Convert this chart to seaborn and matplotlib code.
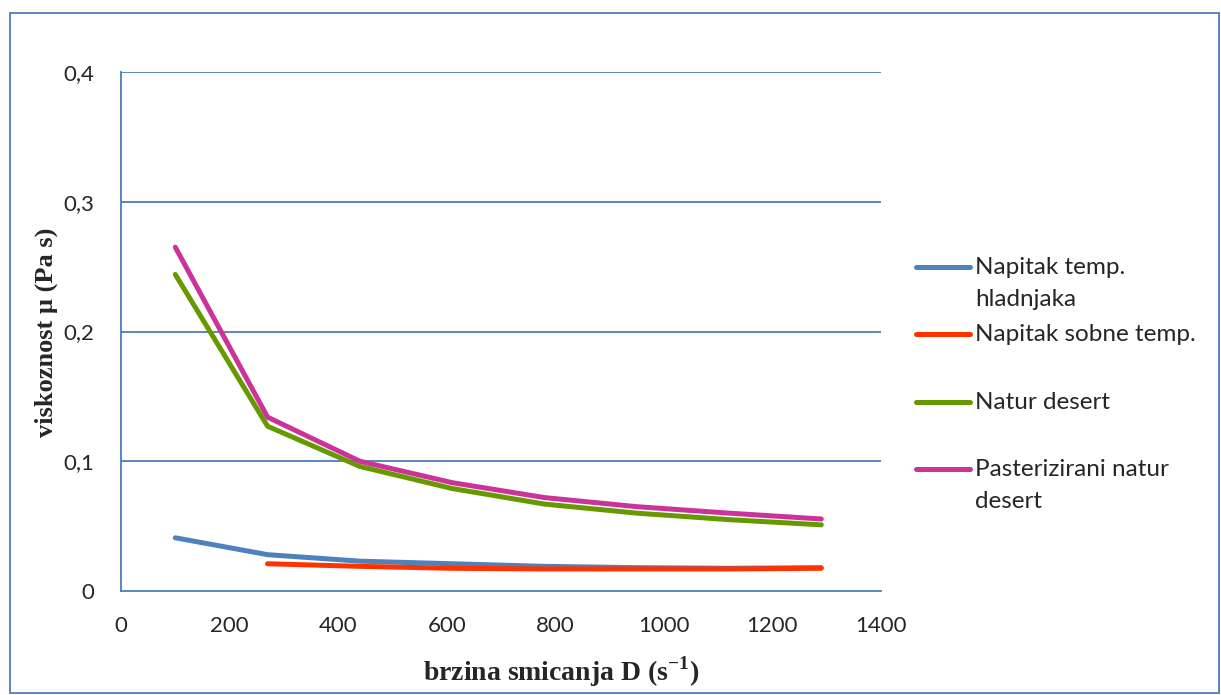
import numpy as np
import pandas as pd
import matplotlib
matplotlib.use("Agg")
import matplotlib.pyplot as plt
import seaborn as sns
from matplotlib.lines import Line2D
from matplotlib.patches import Rectangle

# ---- data ----
shear_rate = [100, 270, 440, 610, 780, 950, 1120, 1290]
napitak_hladnjak = [0.041, 0.028, 0.023, 0.021, 0.019, 0.018, 0.0175, 0.018]
napitak_sobna = [np.nan, 0.021, 0.019, 0.0175, 0.017, 0.017, 0.017, 0.0175]
natur_desert = [0.244, 0.127, 0.096, 0.079, 0.067, 0.060, 0.055, 0.051]
past_natur_desert = [0.265, 0.134, 0.100, 0.0835, 0.072, 0.065, 0.060, 0.0555]

series_names = ["Napitak temp. hladnjaka", "Napitak sobne temp.",
                "Natur desert", "Pasterizirani natur desert"]
legend_labels = ["Napitak temp.\nhladnjaka", "Napitak sobne temp.",
                 "Natur desert", "Pasterizirani natur\ndesert"]
colors = ["#4F81BD", "#FF3300", "#669900", "#CC3399"]
y_ticks = [0, 0.1, 0.2, 0.3, 0.4]
y_tick_labels = ["0", "0,1", "0,2", "0,3", "0,4"]
x_ticks = [0, 200, 400, 600, 800, 1000, 1200, 1400]

frames = []
for name, vals in zip(series_names,
                      [napitak_hladnjak, napitak_sobna, natur_desert, past_natur_desert]):
    frames.append(pd.DataFrame({"x": shear_rate, "y": vals, "serija": name}))
df = pd.concat(frames, ignore_index=True).dropna()

sns.set_style("white")
plt.rcParams["font.family"] = ["Lato", "DejaVu Sans"]
plt.rcParams["mathtext.fontset"] = "custom"
plt.rcParams["mathtext.rm"] = "Liberation Serif:bold"
plt.rcParams["mathtext.bf"] = "Liberation Serif:bold"

fig = plt.figure(figsize=(12.21, 6.95), dpi=100)
ax = fig.add_axes([121 / 1221, 1 - 591 / 695, 760 / 1221, 519 / 695])

grid_c = "#4A7EBB"
sns.lineplot(data=df, x="x", y="y", hue="serija", hue_order=series_names,
             palette=colors, estimator=None, sort=False, linewidth=3.6,
             legend=False, ax=ax, zorder=3)
for ln in ax.get_lines():
    ln.set_solid_capstyle("round")
    ln.set_solid_joinstyle("round")

ax.set_xlim(0, 1400)
ax.set_ylim(0, 0.4)
ax.set_xticks(x_ticks)
ax.set_xticklabels([str(t) for t in x_ticks], fontsize=16)
ax.set_yticks(y_ticks)
ax.set_yticklabels(y_tick_labels, fontsize=16)
ax.tick_params(axis="both", length=0)
ax.tick_params(axis="y", pad=19)
ax.tick_params(axis="x", pad=18)
for t in y_ticks[1:]:
    ax.axhline(t, color=grid_c, lw=1.3, zorder=1)
for s in ["top", "right"]:
    ax.spines[s].set_visible(False)
for s in ["left", "bottom"]:
    ax.spines[s].set_color(grid_c)
    ax.spines[s].set_linewidth(1.3)

ax.set_xlabel(r"brzina smicanja D (s$^{\mathbf{-1}}$)", fontsize=20,
              fontweight="bold", family="Liberation Serif")
ax.xaxis.set_label_coords((561 - 121) / 760, (591 - 672) / 519)
ax.xaxis.label.set_va("center")
ax.set_ylabel("viskoznost µ (Pa s)", fontsize=19, fontweight="bold",
              family="Liberation Serif")
ax.yaxis.set_label_coords((46 - 121) / 760, (591 - 332) / 519)
ax.yaxis.label.set_va("center")

# legend (handle aligned with first text line, as in the original)
leg_y = [267, 334, 402, 469]
for lab, c, yy in zip(legend_labels, colors, leg_y):
    fy = 1 - yy / 695
    fig.add_artist(Line2D([916 / 1221, 970 / 1221], [fy, fy], color=c, lw=3.6,
                          solid_capstyle="round", transform=fig.transFigure))
    fig.text(975 / 1221, 1 - (yy - 10) / 695, lab, fontsize=17.5, va="top",
             ha="left", linespacing=1.62)

# outer chart border
fig.add_artist(Rectangle((10 / 1221, 1 - 693 / 695), 1209 / 1221, 680 / 695,
                         fill=False, edgecolor=grid_c, lw=1.3,
                         transform=fig.transFigure))

fig.savefig("out.png", dpi=100)
